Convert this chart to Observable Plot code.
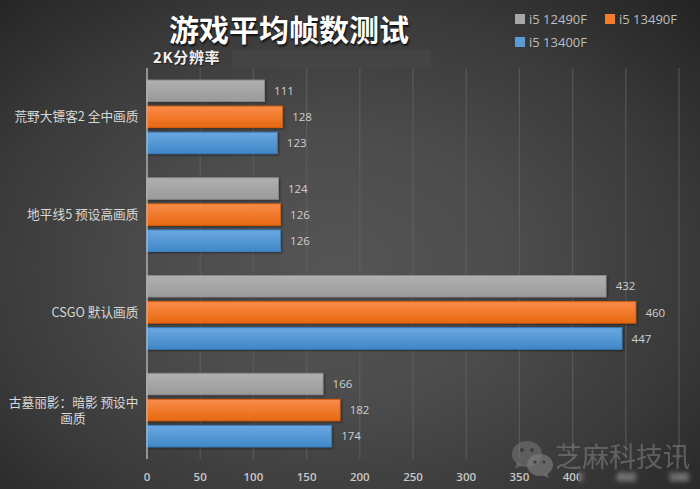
<!DOCTYPE html>
<html><head><meta charset="utf-8">
<script src="https://cdn.jsdelivr.net/npm/d3@7"></script>
<script src="https://cdn.jsdelivr.net/npm/@observablehq/plot@0.6"></script>
<style>
html,body{margin:0;padding:0;background:#333;}
#wrap{position:relative;width:700px;height:489px;overflow:hidden;
  background:radial-gradient(farthest-corner at 48% 55%,#555 0%,#4c4c4c 35%,#3a3a3a 68%,#232323 100%);
  font-family:"Open Sans","Noto Sans CJK SC",sans-serif;}
#head{position:relative;height:68px;}
#title{position:absolute;left:0;width:578px;top:8px;text-align:center;font:bold 30px/40px "Noto Sans CJK SC",sans-serif;color:#fff;
  text-shadow:1px 2px 2px #111,0 0 1px #222;}
#sub{position:absolute;left:153px;top:47px;font:bold 15px/20px "Noto Sans CJK SC",sans-serif;letter-spacing:.6px;color:#f0f0f0;text-shadow:1px 1px 1px #222;}
#patch{position:absolute;left:232px;top:50px;width:199px;height:17px;background:rgba(72,72,72,.6);}
.lg{position:absolute;font-size:13px;line-height:16px;color:#bdbdbd;white-space:nowrap;padding-left:14px;}
.lg i{position:absolute;left:0;top:3px;width:10px;height:10px;}
#chart svg{display:block;background:transparent;overflow:visible;}
.bars rect{filter:drop-shadow(1px 1.5px 1px rgba(0,0,0,.45));}
#blur{position:absolute;left:578px;top:468px;width:122px;height:18px;backdrop-filter:blur(2.5px);}
#wm{position:absolute;left:555px;top:443px;font:27px/26px "Noto Sans CJK SC",sans-serif;color:rgba(125,125,125,.62);white-space:nowrap;}
#wmi{position:absolute;left:509px;top:436px;}
</style></head>
<body>
<div id="wrap">
  <div id="head">
    <div id="title"></div><div id="patch"></div><div id="sub"></div><div id="legend"></div>
  </div>
  <div id="chart"></div>
  <div id="blur"></div>
  <svg id="wmi" width="46" height="46" viewBox="0 0 46 46">
    <ellipse cx="18" cy="18" rx="15" ry="13" fill="rgba(125,125,125,.5)"/>
    <path d="M8 26l-2 7 8-4z" fill="rgba(125,125,125,.5)"/>
    <ellipse cx="31" cy="29" rx="13" ry="11" fill="rgba(125,125,125,.65)"/>
    <path d="M38 37l2 5-7-3z" fill="rgba(125,125,125,.65)"/>
    <circle cx="13" cy="14" r="2" fill="#3c3c3c"/><circle cx="23" cy="14" r="2" fill="#3c3c3c"/>
    <circle cx="26" cy="26" r="1.6" fill="#3c3c3c"/><circle cx="35" cy="26" r="1.6" fill="#3c3c3c"/>
  </svg>
  <div id="wm"></div>
</div>
<script>
const titleText = "游戏平均帧数测试";
const subtitleText = "2K分辨率";
const watermark = "芝麻科技讯";
const categories = ["荒野大镖客2 全中画质","地平线5 预设高画质","CSGO 默认画质","古墓丽影：暗影 预设中画质"];
const categoryLine1 = ["荒野大镖客2 全中画质","地平线5 预设高画质","CSGO 默认画质","古墓丽影：暗影 预设中"];
const categoryLine2 = ["","","","画质"];
const seriesNames = ["i5 12490F","i5 13490F","i5 13400F"];
const v12490 = [111,124,432,166];
const v13490 = [128,126,460,182];
const v13400 = [123,126,447,174];
const seriesValues = [v12490,v13490,v13400];
const legendColors = ["#a8a8a8","#f47a2c","#5b9bd5"];
const gradTop = ["#b0b0b0","#f98c4a","#6ba8e0"];
const gradBottom = ["#9a9a9a","#e8680f","#3f87c8"];
const edge = ["#8a8a8a","#d9600f","#3a7fbe"];
const xTicks = [0,50,100,150,200,250,300,350,400,450,500];

const rows = categories.flatMap((c,i)=>seriesNames.map((s,j)=>({category:c,series:s,value:seriesValues[j][i],j})));
const lab = categories.map((c,i)=>({category:c,l1:categoryLine1[i],l2:categoryLine2[i]}));

document.getElementById("title").textContent = titleText;
document.getElementById("sub").textContent = subtitleText;
document.getElementById("wm").textContent = watermark;
const legendPos = [[515,11],[605,11],[515,34]];
document.getElementById("legend").innerHTML = seriesNames.map((s,i)=>
  `<div class="lg" style="left:${legendPos[i][0]}px;top:${legendPos[i][1]}px"><i style="background:${legendColors[i]}"></i>${s}</div>`).join("");

const defs = () => {
  const ns="http://www.w3.org/2000/svg";
  const d=document.createElementNS(ns,"defs");
  seriesNames.forEach((s,i)=>{
    const g=document.createElementNS(ns,"linearGradient");
    g.setAttribute("id","g"+i);g.setAttribute("x1","0");g.setAttribute("x2","0");g.setAttribute("y1","0");g.setAttribute("y2","1");
    [[0,gradTop[i]],[1,gradBottom[i]]].forEach(([o,c])=>{
      const st=document.createElementNS(ns,"stop");st.setAttribute("offset",o);st.setAttribute("stop-color",c);g.appendChild(st);});
    d.appendChild(g);
  });
  return d;
};

const labelFont = `"Noto Sans CJK SC",sans-serif`;
const chart = Plot.plot({
  width:700,height:421,
  marginTop:0,marginBottom:30,marginLeft:146.5,marginRight:21.5,
  style:{background:"transparent",color:"#ccc",fontFamily:`"Open Sans","Noto Sans CJK SC",sans-serif`,fontSize:"11px"},
  x:{domain:[0,500],axis:null},
  y:{domain:seriesNames,axis:null,paddingInner:.173,paddingOuter:.46,round:false},
  fy:{domain:categories,axis:null,padding:0,round:false},
  color:{domain:seriesNames,range:seriesNames.map((s,i)=>`url(#g${i})`)},
  marks:[
    defs,
    Plot.ruleX(xTicks.slice(1),{stroke:"#666",strokeWidth:1.3,strokeOpacity:.6}),
    Plot.barX(rows,{x:"value",y:"series",fy:"category",fill:"series",stroke:d=>edge[d.j],strokeWidth:1,className:"bars"}),
    Plot.ruleX([0],{stroke:"#b0b0b0",strokeWidth:1.5}),
    Plot.text(rows,{x:"value",y:"series",fy:"category",text:d=>String(d.value),dx:9,textAnchor:"start",fill:"#cfcfcf",fontSize:11.5}),
    Plot.text(lab,{fy:"category",frameAnchor:"left",text:"l1",textAnchor:"end",dx:-8.5,fill:"#d8d8d8",fontSize:12.7,fontFamily:labelFont,filter:d=>!d.l2}),
    Plot.text(lab,{fy:"category",frameAnchor:"left",text:"l1",textAnchor:"end",dx:-8.5,dy:-8,fill:"#d8d8d8",fontSize:12.7,fontFamily:labelFont,filter:d=>d.l2}),
    Plot.text(lab,{fy:"category",frameAnchor:"left",text:"l2",textAnchor:"middle",dx:-74,dy:8,fill:"#d8d8d8",fontSize:12.7,fontFamily:labelFont,filter:d=>d.l2}),
    Plot.axisX(xTicks,{anchor:"bottom",tickSize:0,tickPadding:13,fontSize:11.5,fontWeight:600,fill:"#c8c8c8",label:null,tickFormat:d=>String(d)})
  ]
});
document.getElementById("chart").appendChild(chart);
</script>
</body></html>
